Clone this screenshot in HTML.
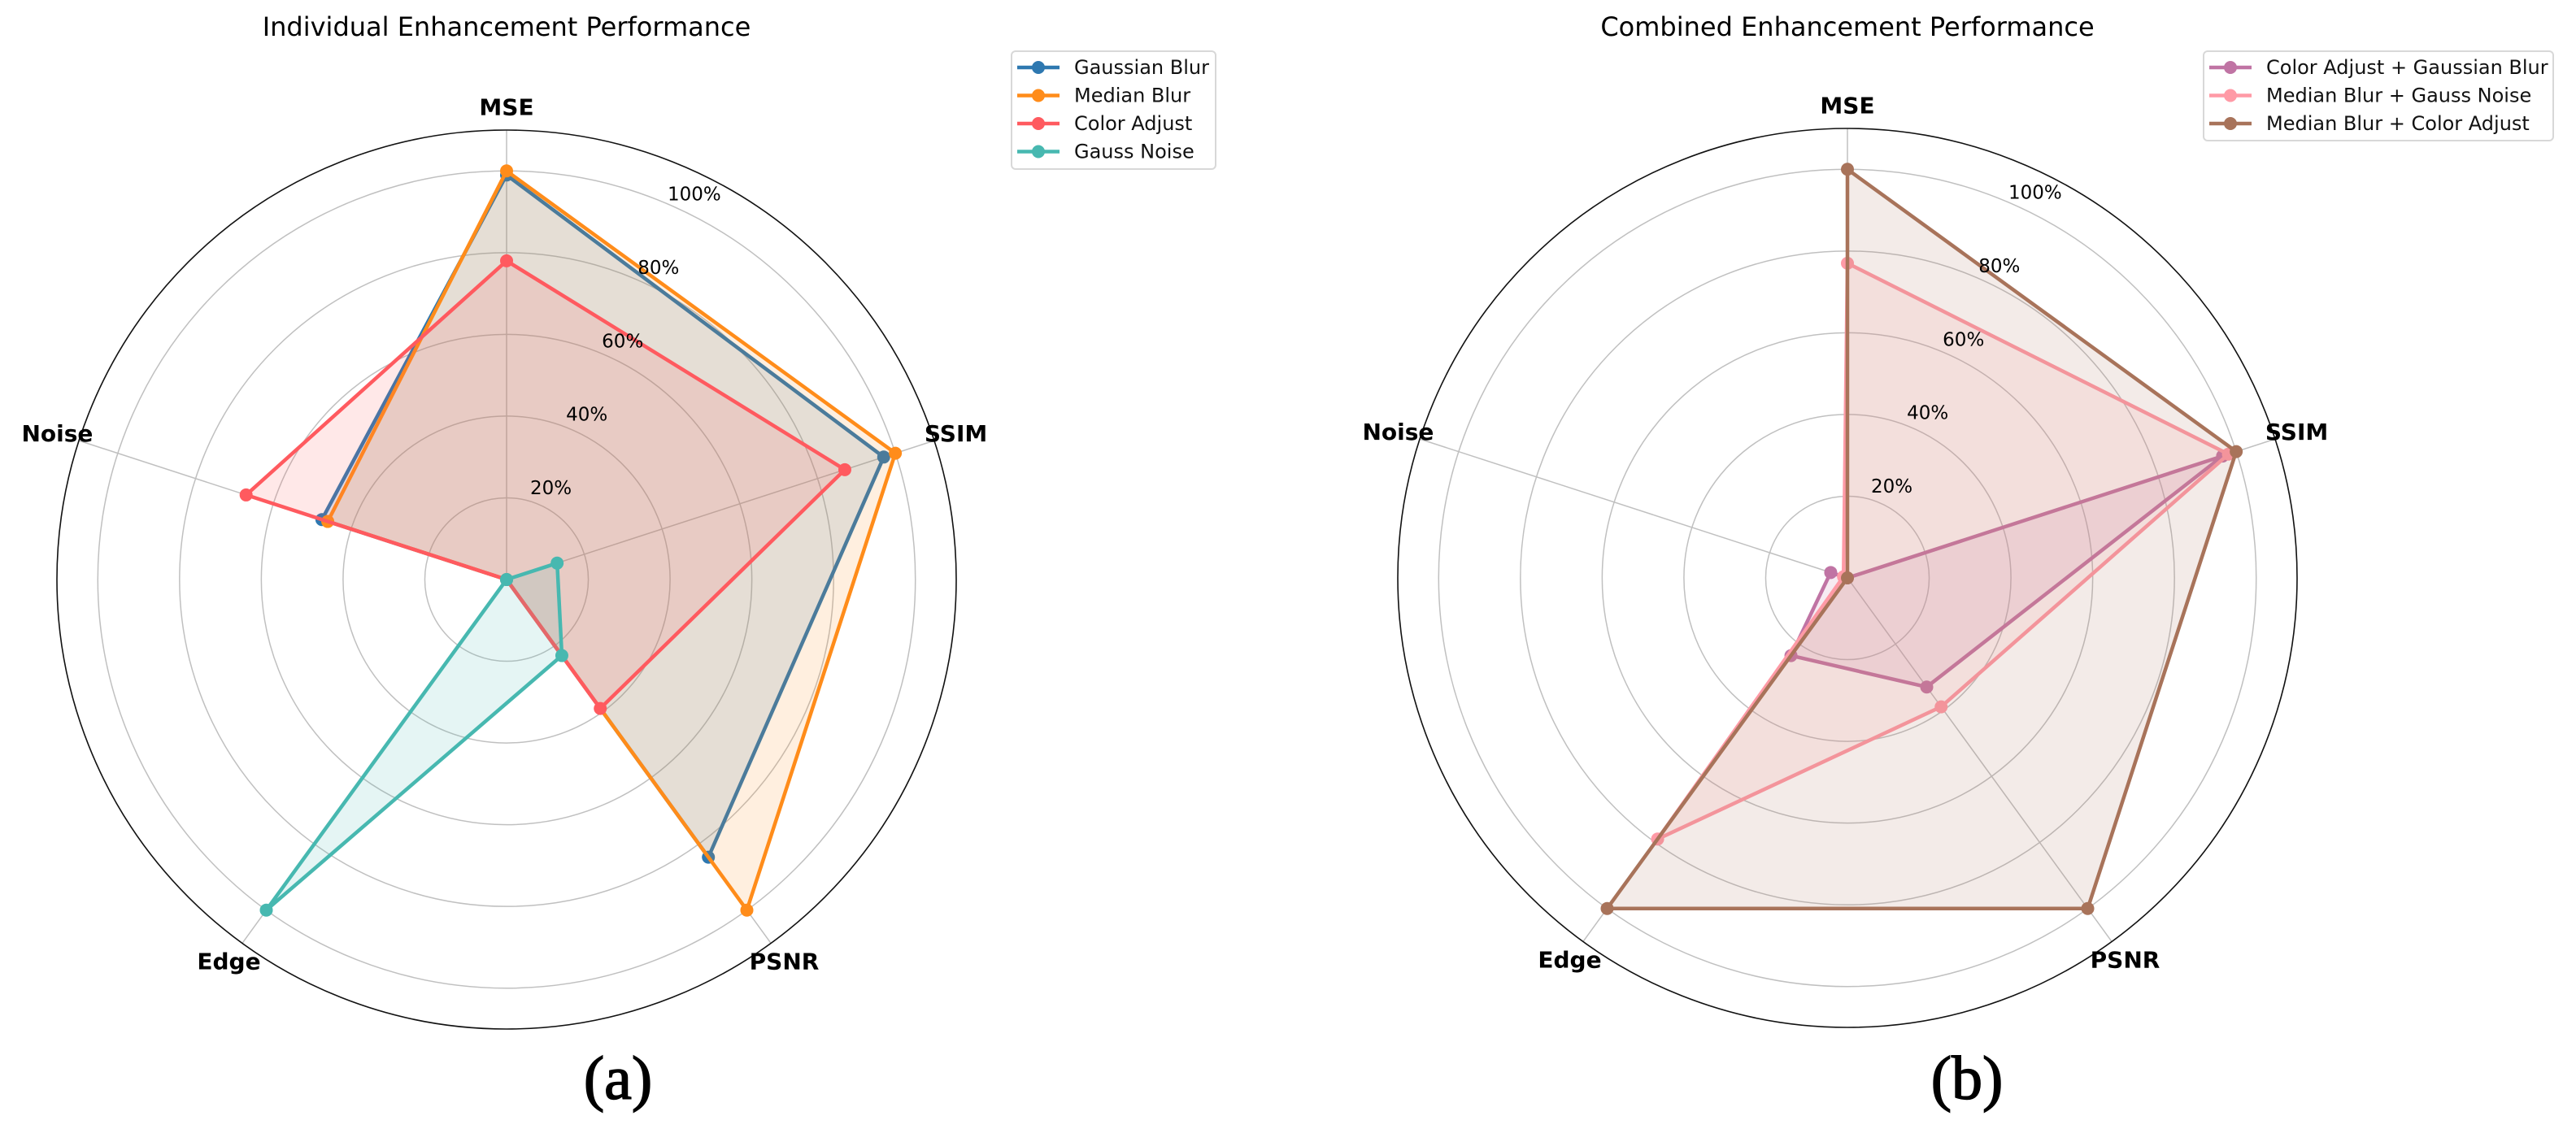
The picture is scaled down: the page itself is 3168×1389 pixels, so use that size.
<!DOCTYPE html>
<html><head><meta charset="utf-8"><style>
html,body{margin:0;padding:0;background:#fff;}
svg{display:block;font-family:"DejaVu Sans","Liberation Sans",sans-serif;}
</style></head><body>
<svg id="fig" width="3168" height="1389" viewBox="0 0 3168 1389" xmlns="http://www.w3.org/2000/svg"></svg>
<script>
const axesLabels = ["MSE","SSIM","PSNR","Edge","Noise"];
const tickValues = [20,40,60,80,100];
const tickLabels = ["20%","40%","60%","80%","100%"];
const seriesNamesA = ["Gaussian Blur","Median Blur","Color Adjust","Gauss Noise"];
const seriesColorsA = ["#2e78b0","#ff8c1a","#ff5a5f","#47b8b0"];
const gaussianBlur = [99,97,84,0,47.5];
const medianBlur = [100,100,100,0,46];
const colorAdjust = [78,87,39,0,67];
const gaussNoise = [0,13,23,100,0];
const seriesNamesB = ["Color Adjust + Gaussian Blur","Median Blur + Gauss Noise","Median Blur + Color Adjust"];
const seriesColorsB = ["#c074a4","#ff9aa6","#a8735a"];
const colorGauss = [0,96.5,33,23.5,4.3];
const medianNoise = [77,98,39,79,1];
const medianColor = [100,100,100,100,0];

const NS="http://www.w3.org/2000/svg";
const svg=document.getElementById('fig');
const RMAX=110, PX=553;
function mk(tag,attrs,parent){const e=document.createElementNS(NS,tag);for(const k in attrs)e.setAttribute(k,attrs[k]);(parent||svg).appendChild(e);return e;}
function ang(i){return (90-72*i)*Math.PI/180;}
function pt(cx,cy,i,v){const r=v/RMAX*PX;return [cx+r*Math.cos(ang(i)),cy-r*Math.sin(ang(i))];}

function radar(cx,cy,title,names,colors,data,legend,panel,panelX,key){
  const g=mk('g',{});
  
  
  const t=mk('text',{x:cx,y:44,'text-anchor':'middle','font-size':32,fill:'#000'},g);
  t.textContent=title;
  
  
  tickValues.forEach((v,k)=>{
    const c=mk('circle',{cx:cx,cy:cy,r:v/RMAX*PX,fill:'none',stroke:'#c0c0c0','stroke-width':1.5},g);
    
    
  });
  axesLabels.forEach((l,i)=>{
    const p=pt(cx,cy,i,RMAX);
    const s=mk('line',{x1:cx,y1:cy,x2:p[0],y2:p[1],stroke:'#c0c0c0','stroke-width':1.5},g);
    
    
  });
  const oc=mk('circle',{cx:cx,cy:cy,r:PX,fill:'none',stroke:'#111','stroke-width':1.6},g);
  
  
  data.forEach((vals,s)=>{
    const pts=vals.map((v,i)=>pt(cx,cy,i,v));
    const d=pts.map(p=>p[0].toFixed(1)+','+p[1].toFixed(1)).join(' ');
    const f=mk('polygon',{points:d,fill:colors[s],'fill-opacity':0.14,stroke:'none'},g);
    
    
    const pl=mk('polygon',{points:d,fill:'none',stroke:colors[s],'stroke-width':4.5,'stroke-linejoin':'round'},g);
    
    
    pts.forEach((p,i)=>{
      const m=mk('circle',{cx:p[0],cy:p[1],r:8,fill:colors[s]},g);
      
      
    });
  });
  tickValues.forEach((v,k)=>{
    const r=v/RMAX*PX+24, a=64*Math.PI/180;
    const tx=mk('text',{x:cx+r*Math.cos(a),y:cy-r*Math.sin(a),'text-anchor':'middle','dominant-baseline':'central','font-size':23,fill:'#000'},g);
    tx.textContent=tickLabels[k];
    
    
  });
  axesLabels.forEach((l,i)=>{
    const a=ang(i), r=581;
    const tx=mk('text',{x:cx+r*Math.cos(a),y:cy-r*Math.sin(a),'text-anchor':'middle','dominant-baseline':'central','font-size':28,'font-weight':'bold',fill:'#000'},g);
    tx.textContent=l;
    
    
  });
  const lg=mk('g',{},g);
  
  
  mk('rect',{x:legend.x,y:63,width:legend.w,height:legend.h,rx:5,fill:'#fff',stroke:'#d8d8d8','stroke-width':2},lg);
  names.forEach((n,s)=>{
    const y=83+34.5*s;
    const e=mk('g',{},lg);
    
    
    mk('line',{x1:legend.x+7,y1:y,x2:legend.x+59,y2:y,stroke:colors[s],'stroke-width':4.5},e);
    mk('circle',{cx:legend.x+33,cy:y,r:8,fill:colors[s]},e);
    const tx=mk('text',{x:legend.x+77,y:y,'dominant-baseline':'central','font-size':24,fill:'#111'},e);
    tx.textContent=n;
  });
  const pl=mk('text',{x:panelX,y:1352,'text-anchor':'middle','font-size':76,stroke:'#000','stroke-width':1.5,'font-family':'"Liberation Serif",serif',fill:'#000'},g);
  pl.textContent=panel;
  
  
}
radar(623,713,"Individual Enhancement Performance",seriesNamesA,seriesColorsA,[gaussianBlur,medianBlur,colorAdjust,gaussNoise],{x:1244,w:251,h:145},"(a)",760,'individual');
radar(2272,711,"Combined Enhancement Performance",seriesNamesB,seriesColorsB,[colorGauss,medianNoise,medianColor],{x:2710,w:430,h:110},"(b)",2419,'combined');
</script>
</body></html>
